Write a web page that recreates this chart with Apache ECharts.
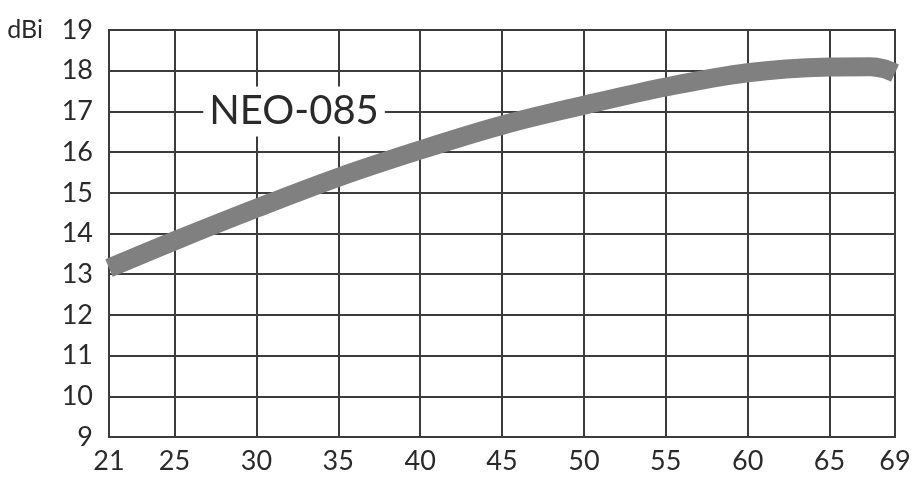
<!DOCTYPE html>
<html>
<head>
<meta charset="utf-8">
<script src="https://cdn.jsdelivr.net/npm/echarts@6/dist/echarts.min.js"></script>
<style>html,body{margin:0;padding:0;background:#fff}#c{width:918px;height:487px}</style>
</head>
<body>
<div id="c"></div>
<script>
const xTicks = [21, 25, 30, 35, 40, 45, 50, 55, 60, 65, 69];
const freq = [21, 25, 30, 35, 40, 45, 50, 55, 60, 65, 67.5, 68.3, 69];
const gain = [13.15, 13.82, 14.62, 15.38, 16.05, 16.66, 17.15, 17.6, 17.95, 18.09, 18.1, 18.05, 17.94];
const modelName = 'NEO-085';
const modelPos = [32.3, 17];
const unit = 'dBi';

const chart = echarts.init(document.getElementById('c'));
const lineCol = '#3c3c3c';
const txtCol = '#2a2a2a';
const font = 'Lato';
chart.setOption({
  animation: false,
  grid: { left: 109, right: 23, top: 30, bottom: 50, show: true, borderColor: lineCol, borderWidth: 2 },
  xAxis: {
    type: 'value', min: 21, max: 69,
    axisLine: { show: false },
    axisTick: { show: false, customValues: xTicks },
    axisLabel: { customValues: xTicks, color: txtCol, fontSize: 27, fontFamily: font, margin: 11 },
    splitLine: { show: true, lineStyle: { color: lineCol, width: 2 } }
  },
  yAxis: {
    type: 'value', min: 9, max: 19, interval: 1,
    name: unit, nameLocation: 'end', nameGap: 0,
    nameTextStyle: { color: txtCol, fontSize: 25, fontFamily: font, align: 'right', verticalAlign: 'middle', padding: [0, 66, 0, 0] },
    axisLine: { show: false },
    axisTick: { show: false },
    axisLabel: { color: txtCol, fontSize: 27, fontFamily: font, margin: 16 },
    splitLine: { show: true, lineStyle: { color: lineCol, width: 2 } }
  },
  series: [{
    type: 'line',
    data: freq.map((f, i) => [f, gain[i]]),
    smooth: 0.35,
    symbol: 'none',
    lineStyle: { color: '#808080', width: 19, cap: 'butt' },
    markPoint: {
      symbol: 'circle', symbolSize: 0,
      data: [{ coord: modelPos }],
      label: {
        show: true, position: 'inside', formatter: modelName,
        color: txtCol, fontSize: 40, fontFamily: font,
        backgroundColor: '#fff', padding: [6, 6, 4, 6]
      }
    }
  }]
});
</script>
</body>
</html>
